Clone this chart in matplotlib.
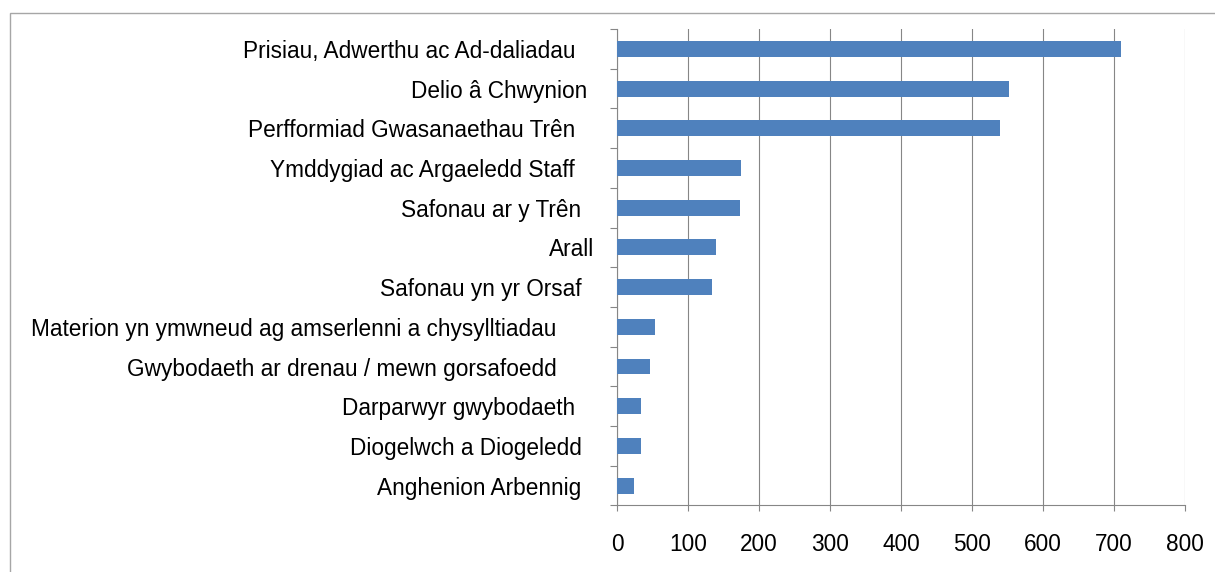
import matplotlib.pyplot as plt
from matplotlib.patches import Rectangle
import numpy as np

# Categories (top to bottom) as in the source sheet, trailing spaces kept
categories = [
    "Prisiau, Adwerthu ac Ad-daliadau   ",
    "Delio â Chwynion ",
    "Perfformiad Gwasanaethau Trên   ",
    "Ymddygiad ac Argaeledd Staff   ",
    "Safonau ar y Trên  ",
    "Arall",
    "Safonau yn yr Orsaf  ",
    "Materion yn ymwneud ag amserlenni a chysylltiadau      ",
    "Gwybodaeth ar drenau / mewn gorsafoedd      ",
    "Darparwyr gwybodaeth   ",
    "Diogelwch a Diogeledd  ",
    "Anghenion Arbennig  ",
]
counts = [710, 552, 540, 174, 173, 139, 134, 53, 46, 34, 34, 24]
xticks = [0, 100, 200, 300, 400, 500, 600, 700, 800]

plt.rcParams.update({'font.family': 'Liberation Sans', 'font.size': 16.3})

fig = plt.figure(figsize=(12.15, 5.72), dpi=100)
ax = fig.add_axes([0.5078, 0.1163, 0.9753 - 0.5078, 0.9493 - 0.1163])

# outer chart frame (only top and left edges fall inside the picture)
fig.patches.append(Rectangle((10 / 1215, -0.1), 1.2, 1 - 13 / 572 + 0.1,
                             transform=fig.transFigure, fill=False,
                             edgecolor='#a6a6a6', linewidth=1.0))

pos = np.arange(len(categories))
ax.barh(pos, counts, height=0.4, color='#4f81bd', zorder=3)

ax.set_ylim(len(categories) - 0.5, -0.5)
ax.set_xlim(0, 800)
ax.set_xticks(xticks)
ax.set_xticklabels([str(t) for t in xticks])

# category labels centred, tick marks at the boundaries
ax.set_yticks(pos)
ax.set_yticklabels(categories)
ax.set_yticks(np.arange(len(categories) + 1) - 0.5, minor=True)
ax.tick_params(axis='y', which='major', length=0, pad=23 * 0.72)
ax.tick_params(axis='y', which='minor', length=5, width=0.8, color='#868686')
ax.tick_params(axis='x', length=4.5, width=0.8, color='#868686', pad=15)

ax.grid(axis='x', color='#868686', linewidth=0.8, zorder=0)
for side in ['top', 'right']:
    ax.spines[side].set_visible(False)
for side in ['left', 'bottom']:
    ax.spines[side].set_color('#868686')
    ax.spines[side].set_linewidth(0.8)

plt.savefig('out.png', dpi=100)
